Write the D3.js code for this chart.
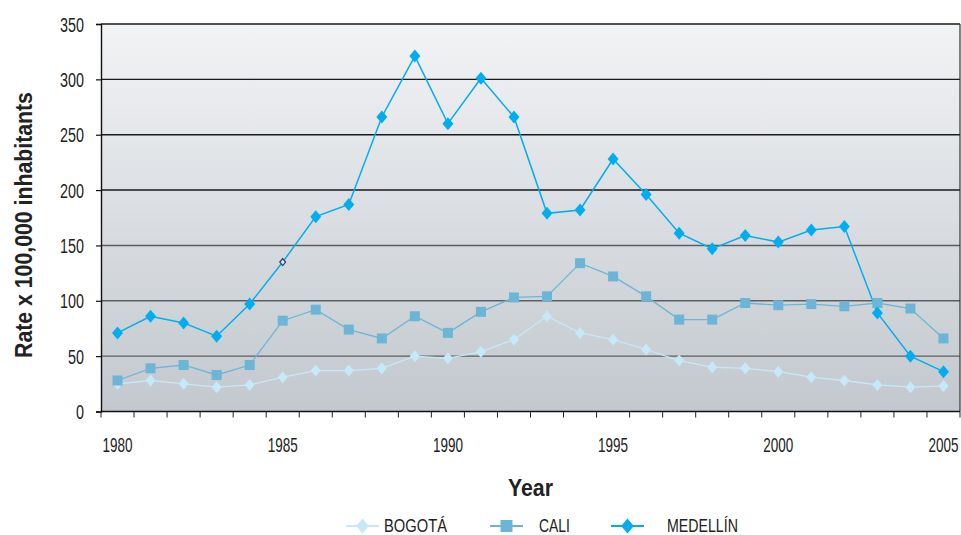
<!DOCTYPE html>
<html>
<head>
<meta charset="utf-8">
<script src="https://cdn.jsdelivr.net/npm/d3@7/dist/d3.min.js"></script>
<style>
html,body{margin:0;padding:0;background:#fff;}
svg{display:block;}
</style>
</head>
<body>
<svg id="chart" width="961" height="535"></svg>
<script>
const years = d3.range(1980, 2006);
const bogota = [25,28,25,22,24,31,37,37,39,50,48,54,65,86,71,65,56,46,40,39,36,31,28,24,22,23];
const cali = [28,39,42,33,42,82,92,74,66,86,71,90,103,104,134,122,104,83,83,98,96,97,95,98,93,66];
const medellin = [71,86,80,68,97,135,176,187,266,321,260,301,266,179,182,228,196,161,147,159,153,164,167,89,50,36];
const yTicks = [0,50,100,150,200,250,300,350];
const xLabelYears = [1980,1985,1990,1995,2000,2005];
const seriesNames = ["BOGOTÁ","CALI","MEDELLÍN"];
const oddMarkerYear = 1985; // Medellín point drawn with a small outline marker

const svg = d3.select("#chart");
const m = {left:101, right:960, top:24, bottom:411.5};
const FONT = "'Liberation Sans',Arial,sans-serif";

const x = d3.scaleBand().domain(years).range([m.left, m.right]);
const y = d3.scaleLinear().domain([0,350]).range([m.bottom, m.top]);

// condense a text element horizontally to a target width around its anchor
function squeeze(sel, width){
  sel.each(function(){
    const t = d3.select(this);
    const w = this.getComputedTextLength();
    const tw = typeof width === "function" ? width(t.text()) : width;
    const sx = tw / w;
    const ax = +t.attr("x") || 0;
    t.attr("transform", `translate(${ax},0) scale(${sx},1) translate(${-ax},0)` + (t.attr("data-extra")||""));
  });
}

// background gradient
const defs = svg.append("defs");
const grad = defs.append("linearGradient").attr("id","bg").attr("x1",0).attr("y1",0).attr("x2",0).attr("y2",1);
grad.append("stop").attr("offset","0%").attr("stop-color","#f2f3f5");
grad.append("stop").attr("offset","100%").attr("stop-color","#c2c8ce");
svg.append("rect").attr("x",m.left).attr("y",m.top).attr("width",m.right-m.left).attr("height",m.bottom-m.top).attr("fill","url(#bg)");

// gridlines
svg.append("g").selectAll("line").data(yTicks.filter(d=>d>0)).join("line")
  .attr("x1",m.left).attr("x2",m.right)
  .attr("y1",d=>y(d)).attr("y2",d=>y(d))
  .attr("stroke",d=>d>=200?"#1a1a1a":"#5e5e5e").attr("stroke-width",1.4);

// right border
svg.append("line").attr("x1",m.right).attr("x2",m.right).attr("y1",m.top).attr("y2",m.bottom).attr("stroke","#333").attr("stroke-width",1.2);

// y axis
const yAxis = svg.append("g").attr("transform",`translate(${m.left},0)`)
  .call(d3.axisLeft(y).tickValues(yTicks).tickSize(5).tickPadding(12));
yAxis.select(".domain").attr("stroke","#111").attr("stroke-width",1.4);
yAxis.selectAll(".tick line").attr("stroke","#111").attr("stroke-width",1.2);
yAxis.selectAll(".tick text").attr("font-family",FONT).attr("font-size",19.5).attr("fill","#222").attr("dy","0.36em")
  .call(squeeze, s=>s.length*8);

// x axis with boundary ticks
const xAxisG = svg.append("g").attr("transform",`translate(0,${m.bottom})`);
xAxisG.append("line").attr("x1",m.left).attr("x2",m.right).attr("stroke","#111").attr("stroke-width",1.4);
const boundaries = years.map(d=>x(d)).concat([m.right]);
xAxisG.selectAll("line.tk").data(boundaries).join("line").attr("class","tk")
  .attr("x1",d=>d).attr("x2",d=>d).attr("y1",0).attr("y2",6).attr("stroke","#222").attr("stroke-width",1);
xAxisG.selectAll("text").data(xLabelYears).join("text")
  .attr("x",d=>x(d)+x.bandwidth()/2).attr("y",41)
  .attr("text-anchor","middle").attr("font-family",FONT).attr("font-size",20).attr("fill","#222")
  .text(d=>d)
  .call(squeeze, 30);

// axis titles
svg.append("text").attr("x",530.5).attr("y",496).attr("text-anchor","middle")
  .attr("font-family",FONT).attr("font-weight","bold").attr("font-size",23).attr("fill","#222").text("Year")
  .call(squeeze, 45);
svg.append("g").attr("transform","translate(32,225) rotate(-90)")
  .append("text").attr("x",0).attr("y",0).attr("text-anchor","middle")
  .attr("font-family",FONT).attr("font-weight","bold").attr("font-size",23).attr("fill","#222").text("Rate x 100,000 inhabitants")
  .call(squeeze, 266);

const cx = d=>x(d)+x.bandwidth()/2;
const series = [
  {name:seriesNames[0], values:bogota, color:"#c6e9f8", marker:"diamond", size:12, lw:1.3},
  {name:seriesNames[1], values:cali, color:"#6db5d7", marker:"square", size:10, lw:1.3},
  {name:seriesNames[2], values:medellin, color:"#00aeef", marker:"diamond", size:13, lw:1.5}
];
function markerPath(type, s){
  if(type==="square"){const h=s/2;return `M${-h},${-h}H${h}V${h}H${-h}Z`;}
  const w=s*0.42, h=s/2; return `M0,${-h}L${w},0L0,${h}L${-w},0Z`;
}
const line = d3.line().x((d,i)=>cx(years[i])).y(d=>y(d));
series.forEach(s=>{
  svg.append("path").datum(s.values).attr("d",line).attr("fill","none").attr("stroke",s.color).attr("stroke-width",s.lw);
});
series.forEach(s=>{
  const odd = d=>s.name==="MEDELLÍN"&&d.yr===oddMarkerYear;
  svg.append("g").selectAll("path").data(s.values.map((v,i)=>({v,yr:years[i]}))).join("path")
    .attr("transform",d=>`translate(${cx(d.yr)},${y(d.v)})`)
    .attr("d",d=>odd(d)?markerPath("diamond",7):markerPath(s.marker,s.size))
    .attr("fill",d=>odd(d)?"#cfe6f3":s.color)
    .attr("stroke",d=>odd(d)?"#2a3d6e":"none")
    .attr("stroke-width",1.2);
});

// legend
const legendX = [[346,384,63],[490,539,31],[611,667,71]];
const ly = 526;
series.forEach((s,i)=>{
  const [lx,tx,tw]=legendX[i];
  svg.append("line").attr("x1",lx).attr("x2",lx+33).attr("y1",ly).attr("y2",ly).attr("stroke",s.color).attr("stroke-width",2);
  svg.append("path").attr("transform",`translate(${lx+16.5},${ly})`).attr("d",markerPath(s.marker,s.marker==="square"?12:15)).attr("fill",s.color);
  svg.append("text").attr("x",tx).attr("y",532).attr("font-family",FONT).attr("font-size",18).attr("fill","#222").text(s.name)
    .call(squeeze, tw);
});
</script>
</body>
</html>
